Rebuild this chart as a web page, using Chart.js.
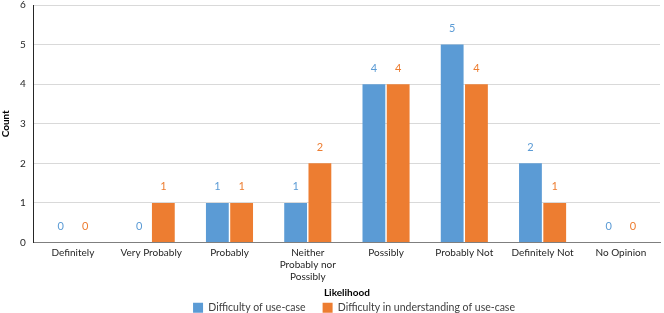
<!DOCTYPE html>
<html>
<head>
<meta charset="utf-8">
<script src="https://cdn.jsdelivr.net/npm/chart.js@4/dist/chart.umd.min.js"></script>
<style>
  html, body { margin: 0; padding: 0; background: #fff; }
  #wrap { width: 664px; height: 313px; }
</style>
</head>
<body>
<div id="wrap"><canvas id="grafico"></canvas></div>
<script>
const categorias = [
  'Definitely',
  'Very Probably',
  'Probably',
  ['Neither', 'Probably nor', 'Possibly'],
  'Possibly',
  'Probably Not',
  'Definitely Not',
  'No Opinion',
];
const dificuldadeUso = [0, 0, 1, 1, 4, 5, 2, 0];
const dificuldadeEntendimento = [0, 1, 1, 2, 4, 4, 1, 0];
const ticksY = [0, 1, 2, 3, 4, 5, 6];

const azul = '#5b9bd5';
const laranja = '#ed7d31';

// rotulos de valor acima de cada barra
const rotulosBarras = {
  id: 'rotulosBarras',
  afterDatasetsDraw(chart) {
    const ctx = chart.ctx;
    ctx.save();
    ctx.font = '11px Lato, "Open Sans", sans-serif';
    ctx.textAlign = 'center';
    ctx.textBaseline = 'middle';
    chart.data.datasets.forEach((dataset, i) => {
      const meta = chart.getDatasetMeta(i);
      ctx.fillStyle = dataset.backgroundColor;
      meta.data.forEach((bar, j) => {
        ctx.fillText(String(dataset.data[j]), bar.x, bar.y - 16);
      });
    });
    ctx.restore();
  },
};

// a legenda original fica um pouco a direita do centro
const deslocarLegenda = {
  id: 'deslocarLegenda',
  afterLayout(chart) {
    if (chart.legend) {
      chart.legend.left += 24;
      chart.legend.right += 24;
    }
  },
};

Chart.defaults.font.family = 'Lato, "Open Sans", sans-serif';
Chart.defaults.font.size = 10;
Chart.defaults.color = '#404040';

new Chart(document.querySelector('#grafico'), {
  type: 'bar',
  data: {
    labels: categorias,
    datasets: [
      {
        label: 'Difficulty of use-case',
        data: dificuldadeUso,
        backgroundColor: azul,
        categoryPercentage: 0.62,
        barPercentage: 0.94,
      },
      {
        label: 'Difficulty in understanding of use-case',
        data: dificuldadeEntendimento,
        backgroundColor: laranja,
        categoryPercentage: 0.62,
        barPercentage: 0.94,
      },
    ],
  },
  options: {
    responsive: true,
    maintainAspectRatio: false,
    animation: false,
    // a legenda usa padding 17; o fundo negativo esconde parte do padding de baixo
    layout: { padding: { top: 0, right: 4, left: 0, bottom: -10 } },
    scales: {
      x: {
        grid: { display: false, drawTicks: false },
        border: { color: '#7f7f7f', width: 1 },
        ticks: { color: '#262626', maxRotation: 0, autoSkip: false, padding: 4, font: { size: 10, lineHeight: 1.2 } },
        title: {
          display: true,
          text: 'Likelihood',
          color: '#000',
          font: { size: 10, weight: 'bold', lineHeight: 1.2 },
          padding: { top: 0, bottom: -13 },
        },
      },
      y: {
        min: 0,
        max: 6,
        afterBuildTicks: (axis) => {
          axis.ticks = ticksY.map((v) => ({ value: v }));
        },
        afterFit: (axis) => {
          axis.paddingTop = 5;
        },
        grid: { color: '#d9d9d9', drawTicks: false },
        border: { color: '#262626', width: 1 },
        ticks: { color: '#262626', padding: 8, font: { size: 10 } },
        title: {
          display: true,
          text: 'Count',
          color: '#000',
          font: { size: 10, weight: 'bold' },
          padding: 0,
        },
      },
    },
    plugins: {
      legend: {
        position: 'bottom',
        labels: {
          boxWidth: 10,
          boxHeight: 10,
          color: '#404040',
          padding: 17,
          font: { size: 10.5, lineHeight: 1.2 },
        },
      },
      tooltip: { enabled: false },
    },
  },
  plugins: [rotulosBarras, deslocarLegenda],
});
</script>
</body>
</html>
